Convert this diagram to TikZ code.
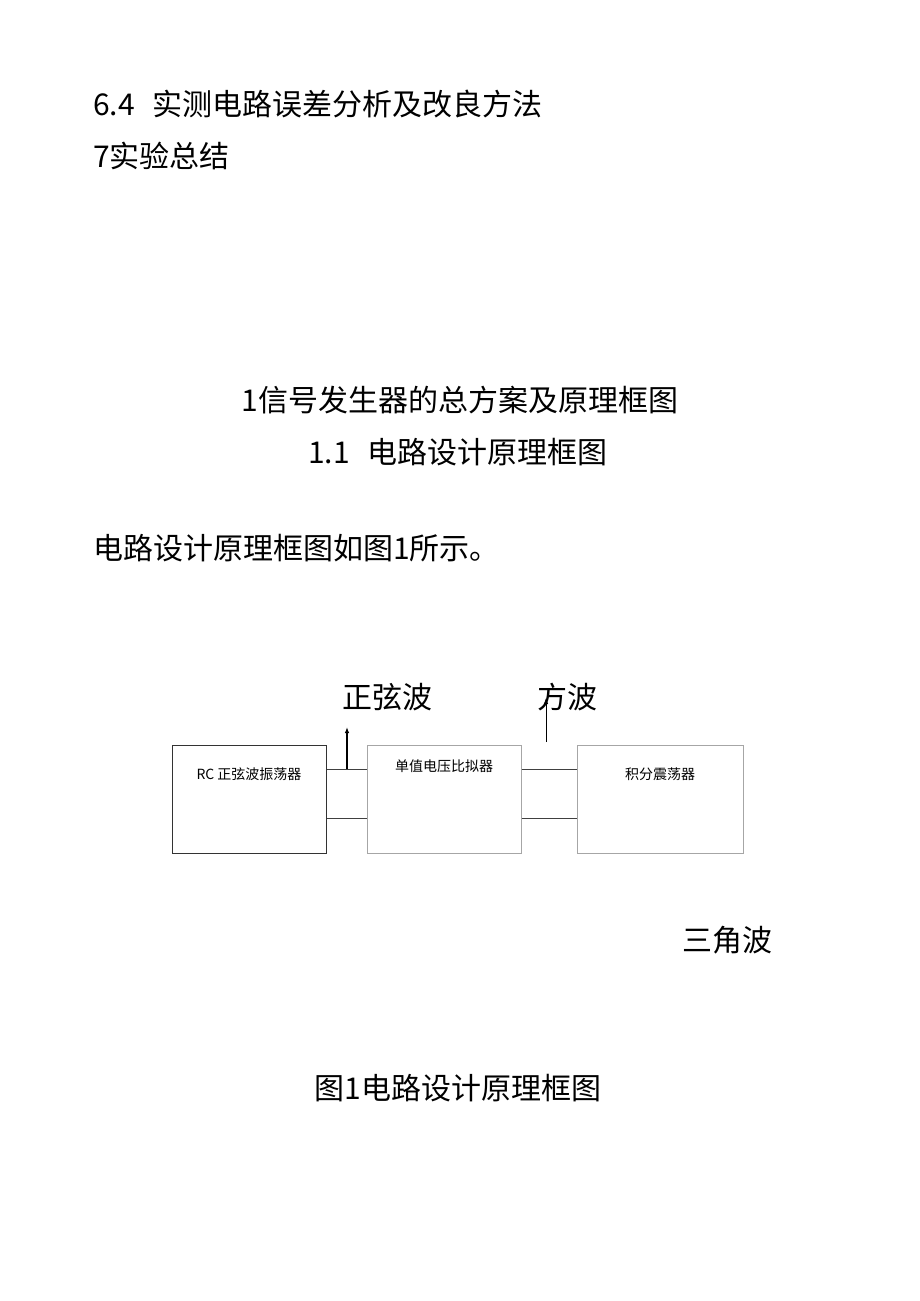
\documentclass[tikz,border=0pt]{standalone}
\usepackage{fontspec}
\usetikzlibrary{arrows.meta}
\setmainfont{Liberation Serif}
\newfontfamily\cjk{Noto Sans CJK SC}
\begin{document}
\begin{tikzpicture}[x=1pt,y=-1pt,
  big/.style={font=\fontsize{30}{30}\selectfont\cjk, inner sep=0pt},
  small/.style={font=\fontsize{14}{14}\selectfont\cjk, inner sep=0pt},
  blk/.style={draw=black!80, line width=1pt, minimum width=#1, minimum height=108pt, inner sep=0pt},
  blk2/.style={draw=black!35, line width=1pt, minimum width=#1, minimum height=108pt, inner sep=0pt},
  wire/.style={draw=black!75, line width=1pt}]
\useasboundingbox (0,0) rectangle (920,1301);
\node[big, anchor=west] (t1) at (93,104) {6.4\hspace{18pt}实测电路误差分析及改良方法};
\node[big, anchor=west] (t2) at (93,156) {7实验总结};
\node[big] (t3) at (460,400) {1信号发生器的总方案及原理框图};
\node[big] (t4) at (458,452) {1.1\hspace{18pt}电路设计原理框图};
\node[big, anchor=west] (t5) at (93,548) {电路设计原理框图如图1所示。};
\node[blk=154pt] (b1) at (249,799) {};
\node[blk2=154pt] (b2) at (444,799) {};
\node[blk2=166pt] (b3) at (660,799) {};
\node[small] (l1) at (249,774) {RC 正弦波振荡器};
\node[small] (l2) at (444,766) {单值电压比拟器};
\node[small] (l3) at (660,774) {积分震荡器};
\coordinate (a1) at (347,769);
\coordinate (a1e) at (347,727);
\coordinate (a2s) at (546,742);
\coordinate (a2e) at (546,698);
\draw[wire] (b1.east |- a1) -- (b2.west |- a1);
\draw[wire] (b1.east |- 0,818) -- (b2.west |- 0,818);
\draw[wire] (b2.east |- a1) -- (b3.west |- a1);
\draw[wire] (b2.east |- 0,818) -- (b3.west |- 0,818);
\node[big] (w1) at (387,697) {正弦波};
\node[big] (w2) at (567,697) {方波};
\draw[line width=1.3pt, -{Latex[length=6pt]}] (a1) -- (a1e);
\draw[line width=0.8pt, -{Latex[length=6pt]}] (a2s) -- (a2e);
\node[big] (w3) at (727,940) {三角波};
\node[big] (cap) at (458,1088) {图1电路设计原理框图};
\end{tikzpicture}
\end{document}
